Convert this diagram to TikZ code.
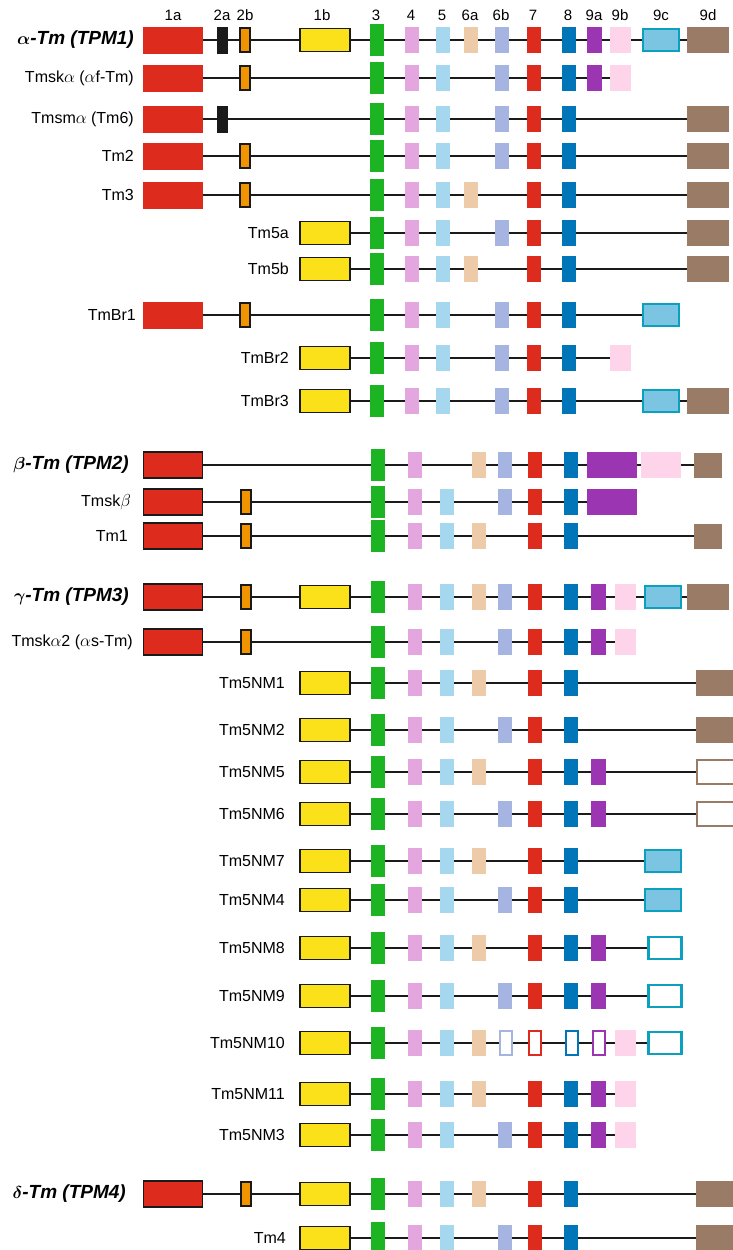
\documentclass[tikz,border=0pt]{standalone}
\usepackage{amsmath}
\usepackage{fontspec}
\setmainfont{Liberation Sans}
\usetikzlibrary{backgrounds}

\definecolor{exLine}{RGB}{26,26,26}
\definecolor{exRed}{RGB}{221,43,30}
\definecolor{exOrange}{RGB}{242,148,0}
\definecolor{exYellow}{RGB}{250,225,25}
\definecolor{exGreen}{RGB}{29,180,36}
\definecolor{exPink}{RGB}{227,166,222}
\definecolor{exSky}{RGB}{165,216,239}
\definecolor{exPeach}{RGB}{237,202,168}
\definecolor{exLav}{RGB}{166,180,226}
\definecolor{exBlue}{RGB}{0,117,184}
\definecolor{exPurple}{RGB}{156,53,177}
\definecolor{exRose}{RGB}{253,212,234}
\definecolor{exCyan}{RGB}{123,196,226}
\definecolor{exTeal}{RGB}{10,160,190}
\definecolor{exBrown}{RGB}{154,124,102}

% exon columns: alpha block and the other genes
\pgfkeys{/cola/.cd, 1a/.initial=173, 2a/.initial=222, 2b/.initial=245, 1b/.initial=325,
  3/.initial=377, 4/.initial=412, 5/.initial=443, 6a/.initial=471, 6b/.initial=502,
  7/.initial=534, 8/.initial=569, 9a/.initial=594, 9b/.initial=620, 9c/.initial=661,
  9d/.initial=708}
\pgfkeys{/colg/.cd, 1A/.initial=173, 2b/.initial=246, 1b/.initial=325, 3/.initial=378,
  4/.initial=415, 5/.initial=447, 6a/.initial=479, 6b/.initial=505, 6bo/.initial=506,
  7/.initial=535, 7o/.initial=535, 8/.initial=571, 8o/.initial=572, 9a/.initial=598,
  9ao/.initial=599, 9aw/.initial=612, 9b/.initial=625, 9bw/.initial=661, 9c/.initial=663,
  9co/.initial=665, 9d/.initial=708, 9dn/.initial=708, 9dr/.initial=716, 9dro/.initial=716}

% [#1 label style] #2 row, #3 y, #4 label x, #5 label, #6 columns, #7 first, #8 last, #9 exons
\newcommand{\generow}[9][lbl]{%
  \node[#1] (#2) at (#4,#3) {#5};
  \foreach \e in {#9} {%
    \pgfkeysgetvalue{/#6/\e}{\exx}%
    \node[ex=\e] (#2-\e) at (\exx,#3) {};
  }
  \begin{pgfonlayer}{background}
    \draw[intron] (#2-#7) -- (#2-#8);
  \end{pgfonlayer}
}

\begin{document}
\begin{tikzpicture}[x=1pt, y=-1pt,
    lbl/.style={anchor=east, inner sep=0pt, font=\fontsize{16}{19}\selectfont},
    gene/.style={lbl, font=\fontsize{19}{22}\selectfont\bfseries\itshape},
    hdr/.style={inner sep=0pt, font=\fontsize{15}{18}\selectfont},
    intron/.style={draw=exLine, line width=1.9pt},
    exon/.style={inner sep=0pt, outer sep=0pt, minimum width=14pt, minimum height=26pt},
    open/.style={fill=white, line width=1.8pt, minimum width=11.5pt, minimum height=23.5pt},
    ex/.style={exon, ex#1},
    ex1a/.style={fill=exRed, minimum width=60pt, minimum height=27pt},
    ex1A/.style={fill=exRed, draw=exLine, line width=1.8pt, minimum width=59pt, minimum height=26pt},
    ex2a/.style={fill=exLine, minimum width=11pt, minimum height=27pt},
    ex2b/.style={fill=exOrange, draw=exLine, line width=1.6pt, minimum width=10.5pt, minimum height=23.5pt},
    ex1b/.style={fill=exYellow, draw=exLine, line width=1.8pt, minimum width=50pt, minimum height=23pt},
    ex3/.style={fill=exGreen, minimum height=32pt},
    ex4/.style={fill=exPink},
    ex5/.style={fill=exSky},
    ex6a/.style={fill=exPeach},
    ex6b/.style={fill=exLav},
    ex6bo/.style={open, draw=exLav},
    ex7/.style={fill=exRed},
    ex7o/.style={open, draw=exRed},
    ex8/.style={fill=exBlue},
    ex8o/.style={open, draw=exBlue},
    ex9a/.style={fill=exPurple, minimum width=15pt},
    ex9ao/.style={open, draw=exPurple},
    ex9aw/.style={fill=exPurple, minimum width=50pt},
    ex9b/.style={fill=exRose, minimum width=21pt},
    ex9bw/.style={fill=exRose, minimum width=40pt},
    ex9c/.style={fill=exCyan, draw=exTeal, line width=2.2pt, minimum width=36pt, minimum height=22.5pt},
    ex9co/.style={fill=white, draw=exTeal, line width=2.2pt, minimum width=33pt, minimum height=21.5pt},
    ex9d/.style={fill=exBrown, minimum width=42pt},
    ex9dn/.style={fill=exBrown, minimum width=28pt, minimum height=25pt},
    ex9dr/.style={fill=exBrown, minimum width=40pt},
    ex9dro/.style={fill=white, draw=exBrown, line width=1.8pt, minimum width=38pt, minimum height=23.5pt}]
    \useasboundingbox (0,0) rectangle (732,1250);

    % exon numbers
    \foreach \e/\x in {1a/173, 2a/222, 2b/245, 1b/322, 3/376, 4/411, 5/442, 6a/470, 6b/501,
        7/533, 8/568, 9a/594, 9b/620, 9c/661, 9d/708}
        \node[hdr] (h\e) at (\x,15) {\e};

    % alpha
    \generow[gene]{r1}{40}{134}{$\boldsymbol{\alpha}$-Tm (TPM1)}{cola}{1a}{9d}{1a,2a,2b,1b,3,4,5,6a,6b,7,8,9a,9b,9c,9d}
    \generow{r2}{78}{134}{Tmsk$\alpha$ ($\alpha$f-Tm)}{cola}{1a}{9b}{1a,2b,3,4,5,6b,7,8,9a,9b}
    \generow{r3}{119}{134}{Tmsm$\alpha$ (Tm6)}{cola}{1a}{9d}{1a,2a,3,4,5,6b,7,8,9d}
    \generow{r4}{156}{134}{Tm2}{cola}{1a}{9d}{1a,2b,3,4,5,6b,7,8,9d}
    \generow{r5}{195}{134}{Tm3}{cola}{1a}{9d}{1a,2b,3,4,5,6a,7,8,9d}
    \generow{r6}{233}{289}{Tm5a}{cola}{1b}{9d}{1b,3,4,5,6b,7,8,9d}
    \generow{r7}{269}{289}{Tm5b}{cola}{1b}{9d}{1b,3,4,5,6a,7,8,9d}
    \generow{r8}{315}{136}{TmBr1}{cola}{1a}{9c}{1a,2b,3,4,5,6b,7,8,9c}
    \generow{r9}{358}{289}{TmBr2}{cola}{1b}{9b}{1b,3,4,5,6b,7,8,9b}
    \generow{r10}{401}{289}{TmBr3}{cola}{1b}{9d}{1b,3,4,5,6b,7,8,9c,9d}

    % beta
    \generow[gene]{r11}{465}{129}{$\boldsymbol{\beta}$-Tm (TPM2)}{colg}{1A}{9dn}{1A,3,4,6a,6b,7,8,9aw,9bw,9dn}
    \generow{r12}{502}{131}{Tmsk$\beta$}{colg}{1A}{9aw}{1A,2b,3,4,5,6b,7,8,9aw}
    \generow{r13}{536}{128}{Tm1}{colg}{1A}{9dn}{1A,2b,3,4,5,6a,7,8,9dn}

    % gamma
    \generow[gene]{r14}{597}{129}{$\boldsymbol{\gamma}$-Tm (TPM3)}{colg}{1A}{9d}{1A,2b,1b,3,4,5,6a,6b,7,8,9a,9b,9c,9d}
    \generow{r15}{642}{133}{Tmsk$\alpha$2 ($\alpha$s-Tm)}{colg}{1A}{9b}{1A,2b,3,4,5,6b,7,8,9a,9b}
    \generow{r16}{683}{285}{Tm5NM1}{colg}{1b}{9dr}{1b,3,4,5,6a,7,8,9dr}
    \generow{r17}{730}{285}{Tm5NM2}{colg}{1b}{9dr}{1b,3,4,5,6b,7,8,9dr}
    \generow{r18}{772}{285}{Tm5NM5}{colg}{1b}{9dro}{1b,3,4,5,6a,7,8,9a,9dro}
    \generow{r19}{814}{285}{Tm5NM6}{colg}{1b}{9dro}{1b,3,4,5,6b,7,8,9a,9dro}
    \generow{r20}{861}{285}{Tm5NM7}{colg}{1b}{9c}{1b,3,4,5,6a,7,8,9c}
    \generow{r21}{900}{285}{Tm5NM4}{colg}{1b}{9c}{1b,3,4,5,6b,7,8,9c}
    \generow{r22}{948}{285}{Tm5NM8}{colg}{1b}{9co}{1b,3,4,5,6a,7,8,9a,9co}
    \generow{r23}{996}{285}{Tm5NM9}{colg}{1b}{9co}{1b,3,4,5,6b,7,8,9a,9co}
    \generow{r24}{1043}{285}{Tm5NM10}{colg}{1b}{9co}{1b,3,4,5,6a,6bo,7o,8o,9ao,9b,9co}
    \generow{r25}{1094}{285}{Tm5NM11}{colg}{1b}{9b}{1b,3,4,5,6a,7,8,9a,9b}
    \generow{r26}{1135}{285}{Tm5NM3}{colg}{1b}{9b}{1b,3,4,5,6b,7,8,9a,9b}

    % delta
    \generow[gene]{r27}{1194}{126}{$\boldsymbol{\delta}$-Tm (TPM4)}{colg}{1A}{9dr}{1A,2b,1b,3,4,5,6a,7,8,9dr}
    \generow{r28}{1238}{286}{Tm4}{colg}{1b}{9dr}{1b,3,4,5,6b,7,8,9dr}
\end{tikzpicture}
\end{document}
